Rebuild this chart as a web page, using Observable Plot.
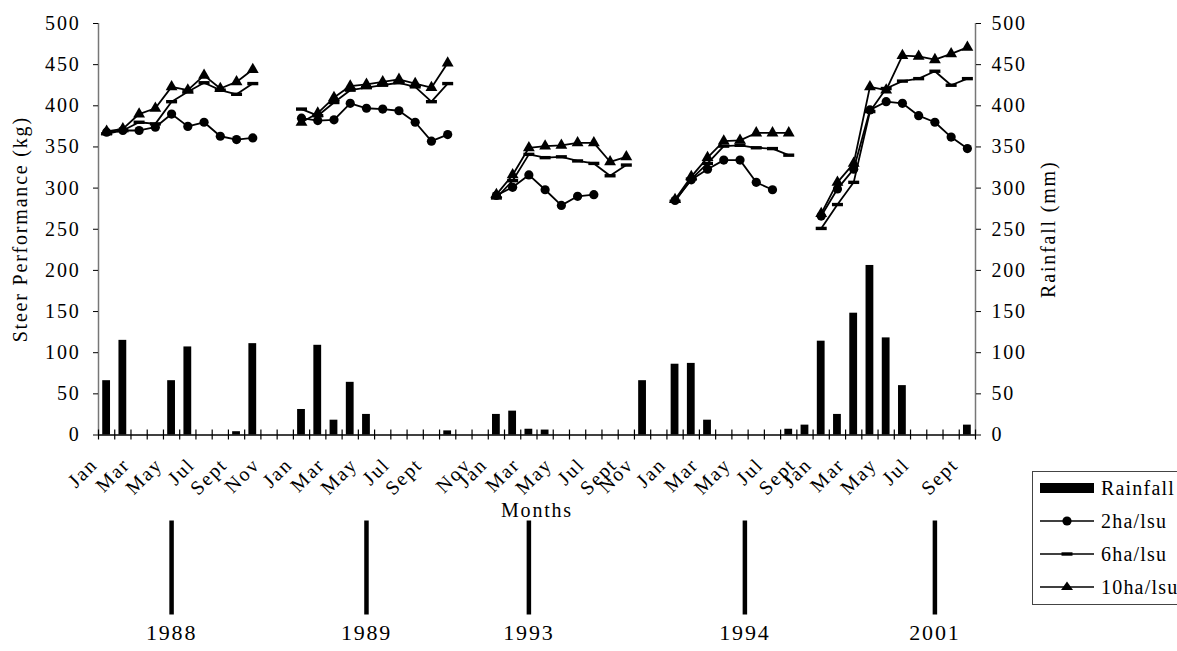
<!DOCTYPE html>
<html><head><meta charset="utf-8">
<script src="https://cdn.jsdelivr.net/npm/d3@7"></script>
<script src="https://cdn.jsdelivr.net/npm/@observablehq/plot@0.6"></script>
<style>
html,body{margin:0;padding:0;background:#fff;}
body{width:1177px;height:651px;overflow:hidden;position:relative;font-family:"Liberation Serif","Times New Roman",serif;}
#chart{position:absolute;left:0;top:0;}
#legend{position:absolute;left:1032px;top:471px;width:170px;height:134px;border:1px solid #444;box-sizing:border-box;background:#fff;}
.item{position:absolute;left:6px;height:24px;display:flex;align-items:center;font-size:20px;letter-spacing:1.2px;color:#000;}
.item svg{margin-right:6px;}
</style></head>
<body><div id="chart"></div><div id="legend"></div>
<script>
// ---- data ----
const monthLabels = [
  "Jan","","Mar","","May","","Jul","","Sept","","Nov","",
  "Jan","","Mar","","May","","Jul","","Sept","","","Nov",
  "Jan","","Mar","","May","","Jul","","Sept","Nov","",
  "Jan","","Mar","","May","","Jul","","Sept",
  "Jan","","Mar","","May","","Jul","","","Sept"
];
const years = ["1988","1989","1993","1994","2001"];
const yearMonthIndex = [4, 16, 26, 39.3, 51];
const rainfall = [
  66,115,0,0,66,107,0,0,4,111,0,0,
  31,109,18,64,25,0,0,0,0,5,0,0,
  25,29,7,6,0,0,0,0,0,66,0,
  86,87,18,0,0,0,0,7,12,
  114,25,148,206,118,60,0,0,0,12
];
const ha2 = [
  368,370,370,374,390,375,380,363,359,361,null,null,
  385,382,383,403,397,396,394,380,357,365,null,null,
  291,301,316,298,279,290,292,null,null,null,null,
  285,310,323,334,334,307,298,null,null,
  266,299,323,395,405,403,388,380,362,348
];
const ha6 = [
  366,370,380,378,405,417,428,419,414,427,null,null,
  396,388,404,419,422,425,428,423,405,427,null,null,
  288,309,341,337,338,333,330,315,328,null,null,
  284,311,330,351,352,349,348,340,null,
  251,280,307,393,421,430,433,442,425,433
];
const ha10 = [
  369,372,390,397,423,419,437,421,429,444,null,null,
  380,391,410,424,426,429,432,427,422,452,null,null,
  292,316,349,351,352,355,355,332,338,null,null,
  286,314,337,357,358,367,367,367,null,
  269,307,330,423,419,461,460,456,463,471
];
const seriesNames = ["Rainfall","2ha/lsu","6ha/lsu","10ha/lsu"];
const yTicks = [0,50,100,150,200,250,300,350,400,450,500];

// ---- table ----
const n = monthLabels.length;
const rows = d3.range(n).map(k => ({k, label: monthLabels[k], rain: rainfall[k], a: ha2[k], b: ha6[k], c: ha10[k]}));
const dashSymbol = {draw(ctx, size) { ctx.rect(-5.5, -1.7, 11, 3.4); }};
const font = "Liberation Serif, Times New Roman, serif";
const mid = d => d.k + 0.5;

const chart = Plot.plot({
  width: 1177, height: 651,
  marginLeft: 98, marginRight: 202, marginTop: 23, marginBottom: 216.5,
  style: {fontFamily: font, fontSize: "20px", letterSpacing: "1.8px", background: "#fff", color: "#000"},
  x: {type: "linear", domain: [0, n], axis: null},
  y: {domain: [0, 500], axis: null},
  marks: [
    Plot.rectY(rows.filter(d => d.rain > 0), {x1: d => d.k + 0.26, x2: d => d.k + 0.74, y1: 0, y2: "rain", fill: "#000"}),
    Plot.line(rows, {x: mid, y: "a", stroke: "#000", strokeWidth: 1.8}),
    Plot.line(rows, {x: mid, y: "b", stroke: "#000", strokeWidth: 1.8}),
    Plot.line(rows, {x: mid, y: "c", stroke: "#000", strokeWidth: 1.8}),
    Plot.dot(rows.filter(d => d.b != null), {x: mid, y: "b", symbol: dashSymbol, fill: "#000", r: 4}),
    Plot.dot(rows.filter(d => d.c != null), {x: mid, y: "c", symbol: "triangle", fill: "#000", r: 4.4}),
    Plot.dot(rows.filter(d => d.a != null), {x: mid, y: "a", r: 4.6, fill: "#000"}),
    Plot.ruleY([0], {stroke: "#000", strokeWidth: 1.3}),
    Plot.ruleX([0], {stroke: "#777", strokeWidth: 1.5}),
    Plot.ruleX([n], {stroke: "#777", strokeWidth: 1.5}),
    Plot.ruleX(d3.range(n + 1), {x: d => d, y1: 0, y2: 0, insetTop: 5, insetBottom: 5, stroke: "#000", strokeWidth: 1.2}),
    Plot.axisY({ticks: yTicks, anchor: "left", tickSize: 5, tickPadding: 13, label: null, fontSize: 20}),
    Plot.axisY({ticks: yTicks, anchor: "right", tickSize: 5, tickPadding: 11, label: null, fontSize: 20}),
    // rotated month labels
    Plot.text(rows.filter(d => d.label), {
      x: mid, frameAnchor: "bottom", text: "label", rotate: -45, textAnchor: "end", lineAnchor: "bottom",
      dx: -8, dy: 31, fontSize: 20
    }),
    Plot.text(["Steer Performance (kg)"], {frameAnchor: "left", dx: -78, rotate: -90, textAnchor: "middle", text: d => d, fontSize: 20}),
    Plot.text(["Rainfall (mm)"], {frameAnchor: "right", dx: 73, rotate: -90, textAnchor: "middle", text: d => d, fontSize: 20}),
    Plot.text(["Months"], {frameAnchor: "bottom", dy: 82, text: d => d, fontSize: 20}),
    Plot.ruleX(yearMonthIndex, {x: d => d + 0.5, y1: 0, y2: 0, insetTop: 86, insetBottom: -180, stroke: "#000", strokeWidth: 4.5}),
    Plot.text(years, {x: (d, i) => yearMonthIndex[i] + 0.5, frameAnchor: "bottom", dy: 205, text: d => d, fontSize: 22})
  ]
});
document.getElementById("chart").appendChild(chart);

// ---- legend ----
const legend = document.getElementById("legend");
const swatch = [
  '<svg width="56" height="20"><rect x="1" y="5" width="54" height="10" fill="#000"/></svg>',
  '<svg width="56" height="20"><line x1="1" x2="55" y1="10" y2="10" stroke="#000" stroke-width="1.6"/><circle cx="28" cy="10" r="4.6" fill="#000"/></svg>',
  '<svg width="56" height="20"><line x1="1" x2="55" y1="10" y2="10" stroke="#000" stroke-width="1.6"/><rect x="22.5" y="8.3" width="11" height="3.4" fill="#000"/></svg>',
  '<svg width="56" height="20"><line x1="1" x2="55" y1="10" y2="10" stroke="#000" stroke-width="1.6"/><path d="M28,4.5 L34,13 L22,13 Z" fill="#000"/></svg>'
];
seriesNames.forEach((name, i) => {
  const div = document.createElement("div");
  div.className = "item";
  div.style.top = (4 + i * 33) + "px";
  div.innerHTML = swatch[i] + "<span>" + name + "</span>";
  legend.appendChild(div);
});
</script>
</body></html>
